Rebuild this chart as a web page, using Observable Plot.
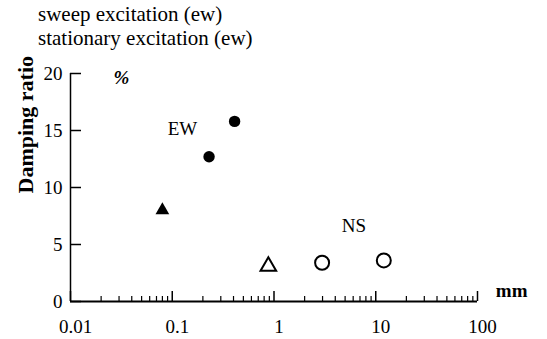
<!DOCTYPE html>
<html>
<head>
<meta charset="utf-8">
<script src="https://cdn.jsdelivr.net/npm/d3@7"></script>
<script src="https://cdn.jsdelivr.net/npm/@observablehq/plot@0.6"></script>
</head>
<body>
<div id="head">
  <div>sweep excitation (ew)</div>
  <div>stationary excitation (ew)</div>
</div>
<div id="chart"></div>
<script>
// Data (displacement in mm, damping ratio in %)
const ewSweepX = [0.23, 0.41];
const ewSweepY = [12.7, 15.8];
const ewStatX = [0.08];
const ewStatY = [8.0];
const nsStatX = [0.88];
const nsStatY = [3.1];
const nsSweepX = [2.97, 12.0];
const nsSweepY = [3.4, 3.6];

const groupLabels = ["EW", "NS"];
const groupLabelX = [0.126, 6.1];
const groupLabelY = [15.1, 6.6];

const xTicks = [0.01, 0.1, 1, 10, 100];
const xTickLabels = ["0.01", "0.1", "1", "10", "100"];
const yTicks = [0, 5, 10, 15, 20];
const minorMult = [2, 3, 4, 5, 6, 7, 8, 9];
const xMinor = xTicks.slice(0, -1).flatMap(d => minorMult.map(m => d * m));

const pts = (xs, ys) => xs.map((x, i) => ({x, y: ys[i]}));
const font = "Liberation Serif";

// page styling through the CSSOM
Object.assign(document.body.style, {margin: "0", padding: "0", background: "#fff", width: "547px", height: "339px", overflow: "hidden", fontFamily: `"${font}", serif`, color: "#000"});
Object.assign(document.getElementById("head").style, {height: "54px", boxSizing: "border-box", padding: "2px 0 0 38px", fontFamily: `"${font}", serif`, fontSize: "21px", lineHeight: "24px", whiteSpace: "nowrap"});

const plot = Plot.plot({
  width: 547,
  height: 285,
  marginTop: 19,
  marginBottom: 38,
  marginLeft: 70,
  marginRight: 70,
  style: {fontFamily: font, fontSize: "19px", color: "#000", background: "#fff", display: "block"},
  x: {type: "log", domain: [0.01, 100]},
  y: {domain: [0, 20]},
  marks: [
    // axis lines
    Plot.ruleY([0], {x1: 0.01, x2: 100, strokeWidth: 2}),
    Plot.ruleX([0.01], {y1: 0, y2: 20, strokeWidth: 1.5}),
    // y ticks (inward) and labels
    Plot.axisY({ticks: yTicks, tickSize: 11, dx: 11, text: null, label: null, strokeWidth: 1.5}),
    Plot.axisY({ticks: yTicks, tickSize: 0, tickPadding: 8, fontSize: 19, label: null}),
    // x ticks (inward) and labels
    Plot.axisX({ticks: xTicks, tickSize: 10, dy: -10, text: null, label: null, strokeWidth: 1.5}),
    Plot.axisX({ticks: xMinor, tickSize: 5, dy: -5, text: null, label: null, strokeWidth: 1.2}),
    Plot.axisX({ticks: xTicks, tickFormat: d => xTickLabels[xTicks.indexOf(d)], tickSize: 0, tickPadding: 18, dx: 5, fontSize: 19, label: null}),
    // axis titles
    Plot.text(["Damping ratio"], {frameAnchor: "left", rotate: -90, dx: -45, dy: 6, fontSize: 22, fontWeight: "bold"}),
    Plot.text(["%"], {frameAnchor: "top-left", dx: 43, dy: -3, fontSize: 19, fontStyle: "italic", fontWeight: "bold"}),
    Plot.text(["mm"], {frameAnchor: "bottom-right", dx: 50, dy: -5, fontSize: 19, fontWeight: "bold"}),
    // group labels
    Plot.text(groupLabels, {x: (d, i) => groupLabelX[i], y: (d, i) => groupLabelY[i], text: d => d, fontSize: 19}),
    // data points
    Plot.dot(pts(ewSweepX, ewSweepY), {x: "x", y: "y", r: 5.7, fill: "#000", stroke: "none"}),
    Plot.dot(pts(ewStatX, ewStatY), {x: "x", y: "y", r: 5.1, symbol: "triangle", fill: "#000", stroke: "none"}),
    Plot.dot(pts(nsStatX, nsStatY), {x: "x", y: "y", r: 5.8, symbol: "triangle", fill: "none", stroke: "#000", strokeWidth: 2}),
    Plot.dot(pts(nsSweepX, nsSweepY), {x: "x", y: "y", r: 7, fill: "none", stroke: "#000", strokeWidth: 2})
  ]
});
document.getElementById("chart").appendChild(plot);
</script>
</body>
</html>
